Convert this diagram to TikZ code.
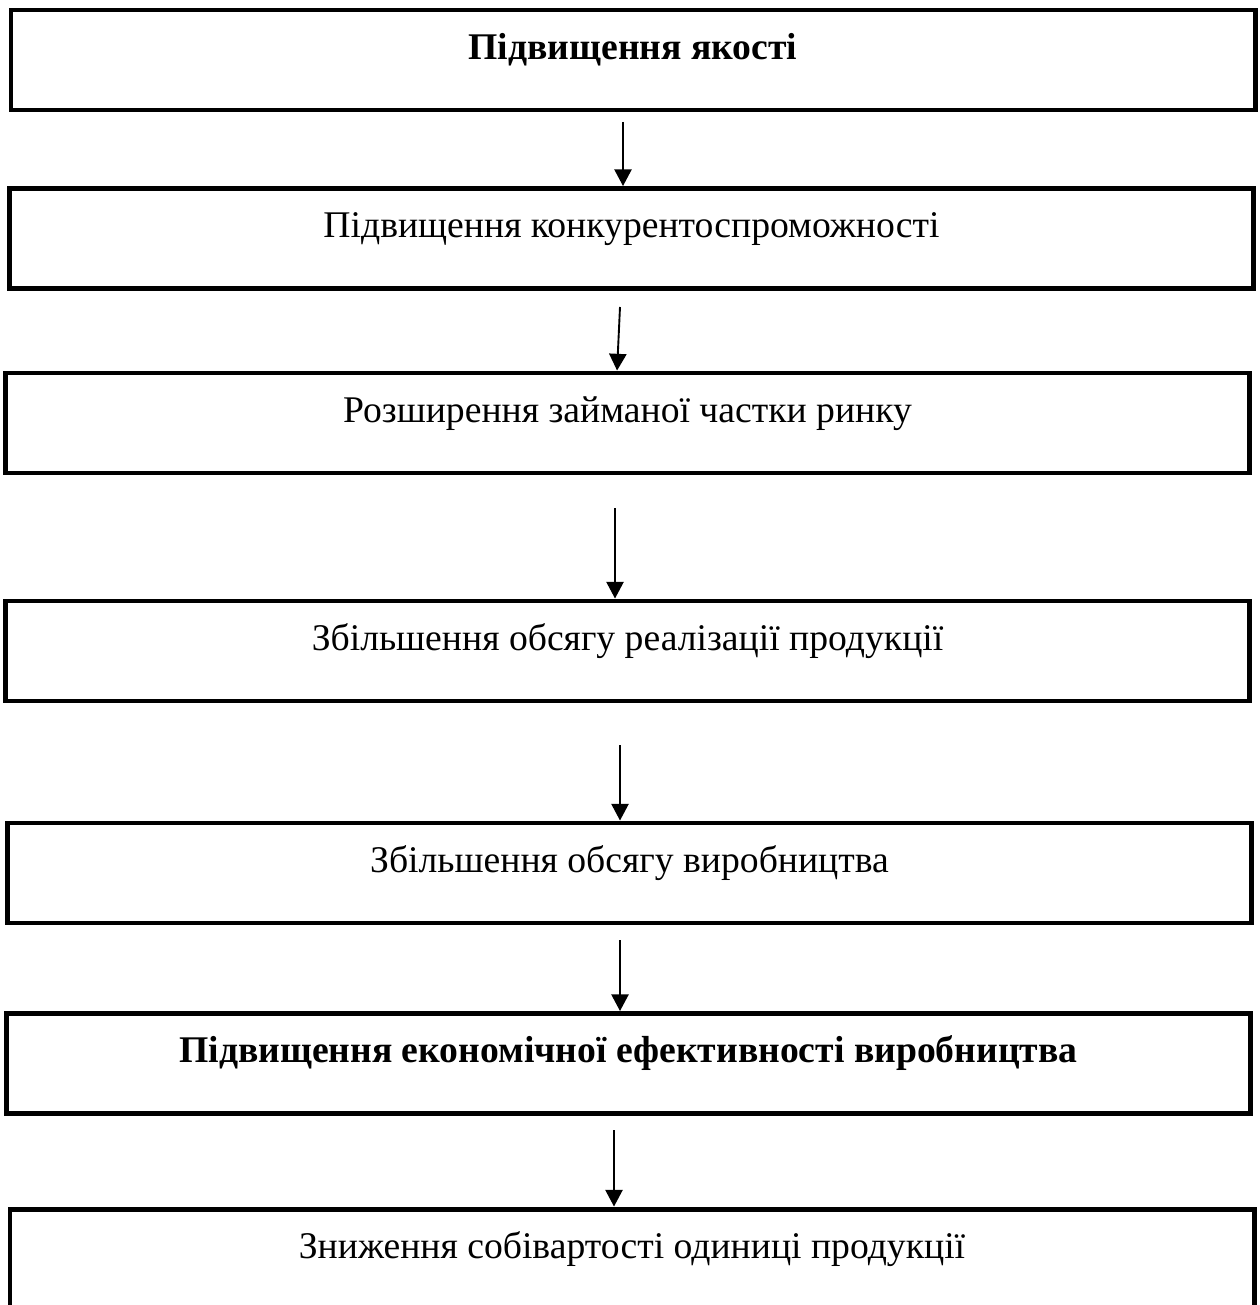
\documentclass[tikz,border=0pt]{standalone}
\usepackage{fontspec}
\setmainfont{Liberation Serif}
\usetikzlibrary{arrows.meta}

\begin{document}
\begin{tikzpicture}[
  x=0.3717pt, y=-0.3717pt,
  stage/.style={draw, line width=1.85pt, minimum width=462.4pt, minimum height=37.17pt,
    inner ysep=0pt, text height=18.2pt, text depth=18.9pt,
    font=\fontsize{14pt}{16pt}\selectfont},
  flow/.style={line width=0.7pt, -{Triangle[length=6.2pt,width=6.4pt]}}
  ]

\useasboundingbox[fill=white] (0,0) rectangle (1259,1305);

\node[stage] (quality) at (633,60) {\textbf{Підвищення якості}};
\node[stage] (compet) at (631.5,238.5) {Підвищення конкурентоспроможності};
\node[stage] (market) at (627.5,423) {Розширення займаної частки ринку};
\node[stage] (sales) at (627.5,651) {Збільшення обсягу реалізації продукції};
\node[stage] (output) at (629.5,873) {Збільшення обсягу виробництва};
\node[stage] (effic) at (628.5,1063.5) {\textbf{Підвищення економічної ефективності виробництва}};
\node[stage] (cost) at (632,1259) {Зниження собівартості одиниці продукції};

\coordinate (a1) at (623,122);
\coordinate (a2) at (620,307);
\coordinate (a3) at (615,508);
\coordinate (a4) at (620,745);
\coordinate (a5) at (620,940);
\coordinate (a6) at (614,1130);

\draw[flow] (a1) -- (a1 |- compet.north);
\draw[flow] (a2) -- ([xshift=-1.1pt]a2 |- market.north);
\draw[flow] (a3) -- (a3 |- sales.north);
\draw[flow] (a4) -- (a4 |- output.north);
\draw[flow] (a5) -- (a5 |- effic.north);
\draw[flow] (a6) -- (a6 |- cost.north);

\end{tikzpicture}
\end{document}
